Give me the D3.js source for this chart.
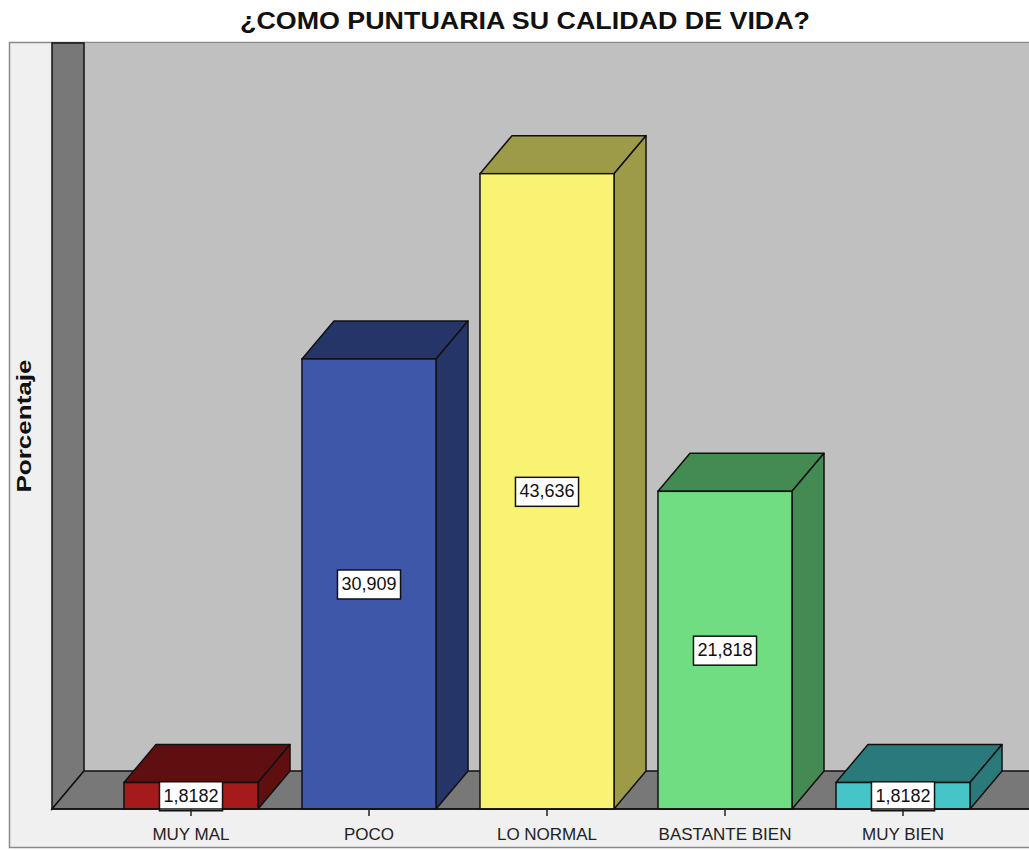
<!DOCTYPE html>
<html>
<head>
<meta charset="utf-8">
<script src="https://cdn.jsdelivr.net/npm/d3@7"></script>
<style>
  body { margin: 0; background: #fff; }
  text { font-family: "Liberation Sans", Arial, sans-serif; }
</style>
</head>
<body>
<div id="chart"></div>
<script>
const categories = ['MUY MAL', 'POCO', 'LO NORMAL', 'BASTANTE BIEN', 'MUY BIEN'];
const values = [1.8182, 30.909, 43.636, 21.818, 1.8182];
const frontColors = ['#a51a1a', '#3e57a9', '#f9f373', '#70dd83', '#46c5c8'];
const shadeColors = ['#5f0f0f', '#253568', '#9d9a48', '#438a53', '#2b7a7b'];

const width = 1029;
const height = 850;
const depth = { dx: 32, dy: -38 };
const plot = { left: 52, bottom: 809, top: 43 };

const svg = d3.select('#chart')
    .append('svg')
    .attr('width', width)
    .attr('height', height);

const xScale = d3.scaleBand()
    .domain(categories)
    .range([102, 992])
    .paddingInner(0.247)
    .paddingOuter(0.1235);

const yScale = d3.scaleLinear()
    .domain([0, 50])
    .range([plot.bottom, plot.top - depth.dy]);

const fmt = d3.formatLocale({ decimal: ',', thousands: '.', grouping: [3], currency: ['', ''] }).format('.5');

// panel
svg.append('rect')
    .attr('x', 9.5).attr('y', 42.5)
    .attr('width', 1040).attr('height', 805)
    .attr('fill', '#f0f0f0')
    .attr('stroke', '#8a8a8a')
    .attr('stroke-width', 1.5);

// back wall
const backLeft = plot.left + depth.dx;
const backBottom = plot.bottom + depth.dy;
svg.append('rect')
    .attr('x', backLeft).attr('y', plot.top)
    .attr('width', width - backLeft + 20).attr('height', backBottom - plot.top)
    .attr('fill', '#c0c0c0');

// left wall
svg.append('polygon')
    .attr('points', [[plot.left, plot.top], [backLeft, plot.top], [backLeft, backBottom], [plot.left, plot.bottom]].join(' '))
    .attr('fill', '#787878')
    .attr('stroke', '#111')
    .attr('stroke-width', 1.5);

// floor
svg.append('polygon')
    .attr('points', [[plot.left, plot.bottom], [backLeft, backBottom], [width + 40, backBottom], [width + 40, plot.bottom]].join(' '))
    .attr('fill', '#787878')
    .attr('stroke', '#111')
    .attr('stroke-width', 1.5);

// bars
const bars = svg.selectAll('g.bar')
    .data(values)
    .enter()
    .append('g')
    .attr('class', 'bar');

const y0 = yScale(0);
const w = xScale.bandwidth();

bars.append('polygon')
    .attr('points', (d, i) => {
        const x = xScale(categories[i]), y = yScale(d);
        return [[x, y], [x + depth.dx, y + depth.dy], [x + w + depth.dx, y + depth.dy], [x + w, y]].join(' ');
    })
    .attr('fill', (d, i) => shadeColors[i])
    .attr('stroke', '#111')
    .attr('stroke-width', 1.5)
    .attr('stroke-linejoin', 'round');

bars.append('polygon')
    .attr('points', (d, i) => {
        const x = xScale(categories[i]) + w, y = yScale(d);
        return [[x, y], [x + depth.dx, y + depth.dy], [x + depth.dx, y0 + depth.dy], [x, y0]].join(' ');
    })
    .attr('fill', (d, i) => shadeColors[i])
    .attr('stroke', '#111')
    .attr('stroke-width', 1.5)
    .attr('stroke-linejoin', 'round');

bars.append('rect')
    .attr('x', (d, i) => xScale(categories[i]))
    .attr('y', d => yScale(d))
    .attr('width', w)
    .attr('height', d => y0 - yScale(d))
    .attr('fill', (d, i) => frontColors[i])
    .attr('stroke', '#111')
    .attr('stroke-width', 1.5);

// baseline
svg.append('line')
    .attr('x1', plot.left).attr('x2', width)
    .attr('y1', plot.bottom).attr('y2', plot.bottom)
    .attr('stroke', '#111')
    .attr('stroke-width', 1.5);

// ticks and category labels
const ticks = svg.append('g');
categories.forEach(c => {
    const cx = xScale(c) + w / 2;
    ticks.append('line')
        .attr('x1', cx).attr('x2', cx)
        .attr('y1', plot.bottom).attr('y2', plot.bottom + 7)
        .attr('stroke', '#222')
        .attr('stroke-width', 1.5);
    ticks.append('text')
        .attr('x', cx).attr('y', 840)
        .attr('text-anchor', 'middle')
        .attr('font-size', 17)
        .attr('fill', '#222')
        .text(c);
});

// value labels
bars.each(function (d, i) {
    const g = d3.select(this);
    const cx = xScale(categories[i]) + w / 2;
    const cy = (yScale(d) + y0) / 2;
    const t = g.append('text')
        .attr('x', cx).attr('y', cy + 6)
        .attr('text-anchor', 'middle')
        .attr('font-size', 18)
        .attr('fill', '#111')
        .text(fmt(d));
    const tw = t.node().getComputedTextLength();
    g.insert('rect', 'text:last-of-type')
        .attr('x', cx - tw / 2 - 4)
        .attr('y', cy - 14)
        .attr('width', tw + 8)
        .attr('height', 29)
        .attr('fill', '#fff')
        .attr('stroke', '#111')
        .attr('stroke-width', 1.5);
});

// title
svg.append('text')
    .attr('x', 525).attr('y', 29)
    .attr('text-anchor', 'middle')
    .attr('font-size', 24)
    .attr('font-weight', 'bold')
    .attr('fill', '#111')
    .attr('textLength', 570)
    .attr('lengthAdjust', 'spacingAndGlyphs')
    .text('¿COMO PUNTUARIA SU CALIDAD DE VIDA?');

// y axis label
svg.append('text')
    .attr('transform', 'translate(31, 426) rotate(-90)')
    .attr('text-anchor', 'middle')
    .attr('font-size', 20)
    .attr('font-weight', 'bold')
    .attr('fill', '#111')
    .attr('textLength', 133)
    .attr('lengthAdjust', 'spacingAndGlyphs')
    .text('Porcentaje');
</script>
</body>
</html>
